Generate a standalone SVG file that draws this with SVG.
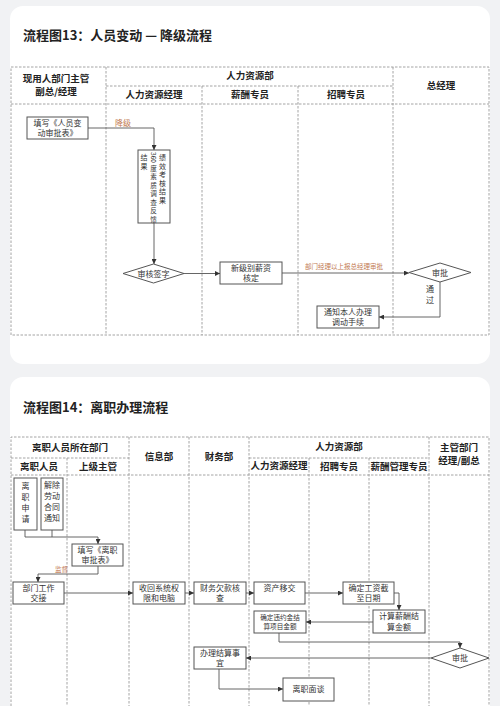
<svg xmlns="http://www.w3.org/2000/svg" width="500" height="706" viewBox="0 0 500 706">
<defs>
<marker id="arr" viewBox="0 0 6 6" refX="6" refY="3" markerWidth="5" markerHeight="5" orient="auto" markerUnits="userSpaceOnUse">
<path d="M0,0 L6,3 L0,6 z" fill="#333"/>
</marker>
</defs>
<style>
.card{fill:#ffffff}
.grid{stroke:#9a9a9a;stroke-width:0.9;stroke-dasharray:2.5,1.5;fill:none}
.title{font-family:"Noto Sans CJK SC","Noto Sans",sans-serif;font-size:13px;font-weight:bold;fill:#222}
.hd{font-family:"Noto Sans CJK SC","Noto Sans",sans-serif;font-size:9.5px;font-weight:bold;fill:#222;text-anchor:middle}
.box{fill:#fff;stroke:#555;stroke-width:1}
.t{font-family:"Noto Sans CJK SC","Noto Sans",sans-serif;font-size:8px;fill:#333;text-anchor:middle}
.ts{font-family:"Noto Sans CJK SC","Noto Sans",sans-serif;font-size:6.6px;fill:#333;text-anchor:middle}
.v{font-family:"Noto Sans CJK SC","Noto Sans",sans-serif;font-size:7px;fill:#333;text-anchor:middle;dominant-baseline:central}
.vm{font-family:"Noto Sans CJK SC","Noto Sans",sans-serif;font-size:6.6px;fill:#333;text-anchor:middle;dominant-baseline:central}
.lbl{font-family:"Noto Sans CJK SC","Noto Sans",sans-serif;font-size:8px;fill:#c27a52}
.lbls{font-family:"Noto Sans CJK SC","Noto Sans",sans-serif;font-size:6.5px;fill:#c27a52}
.c{fill:none;stroke:#555;stroke-width:0.9}
</style>
<rect x="0" y="0" width="500" height="706" fill="#f1f2f4"/>
<rect class="card" x="10" y="6" width="480" height="358" rx="13"/>
<rect class="card" x="10" y="377" width="480" height="340" rx="13"/>

<!-- Chart 13 -->
<text class="title" x="23" y="40">流程图13：人员变动 — 降级流程</text>
<g id="grid13">
<rect class="grid" x="11" y="67" width="478" height="268"/>
<line class="grid" x1="11" y1="104" x2="489" y2="104"/>
<line class="grid" x1="106" y1="86" x2="393" y2="86"/>
<line class="grid" x1="106" y1="67" x2="106" y2="335"/>
<line class="grid" x1="202" y1="86" x2="202" y2="335"/>
<line class="grid" x1="298" y1="86" x2="298" y2="335"/>
<line class="grid" x1="393" y1="67" x2="393" y2="335"/>
<text class="hd" x="56" y="82">现用人部门主管</text>
<text class="hd" x="56" y="95">副总/经理</text>
<text class="hd" x="250" y="79">人力资源部</text>
<text class="hd" x="154" y="98">人力资源经理</text>
<text class="hd" x="250" y="98">薪酬专员</text>
<text class="hd" x="346" y="98">招聘专员</text>
<text class="hd" x="441" y="89">总经理</text>
</g>
<g id="n13-1"><rect class="box" x="27" y="117" width="61" height="22"/><text class="t" x="57.5" y="125.5">填写《人员变</text><text class="t" x="57.5" y="135.5">动审批表》</text></g>
<g id="n13-2"><rect class="box" x="138" y="150" width="32" height="73"/>
<text class="v"><tspan x="162.5" y="157">绩</tspan><tspan x="162.5" y="165.5">效</tspan><tspan x="162.5" y="174">考</tspan><tspan x="162.5" y="182.5">核</tspan><tspan x="162.5" y="191">结</tspan><tspan x="162.5" y="199.5">果</tspan></text>
<text class="vm" transform="translate(153.5,157.5) rotate(90)" x="0" y="0">360</text>
<text class="vm"><tspan x="153.5" y="167.5">度</tspan><tspan x="153.5" y="176">素</tspan><tspan x="153.5" y="184.5">质</tspan><tspan x="153.5" y="193">调</tspan><tspan x="153.5" y="201.5">查</tspan><tspan x="153.5" y="210">反</tspan><tspan x="153.5" y="218.5">馈</tspan></text>
<text class="v"><tspan x="144" y="157">结</tspan><tspan x="144" y="165.5">果</tspan></text></g>
<g id="n13-3"><polygon class="box" points="123,273.5 153.5,264 184,273.5 153.5,283"/><text class="t" x="153.5" y="276.5">审核签字</text></g>
<g id="n13-4"><rect class="box" x="220" y="262" width="62" height="22"/><text class="t" x="251" y="270.5">新级别薪资</text><text class="t" x="251" y="280.5">核定</text></g>
<g id="n13-5"><polygon class="box" points="409,272.5 440,263 471,272.5 440,282"/><text class="t" x="440" y="275.5">审批</text></g>
<g id="n13-6"><rect class="box" x="317" y="306" width="62" height="22"/><text class="t" x="348" y="314.5">通知本人办理</text><text class="t" x="348" y="324.5">调动手续</text></g>
<g id="conn13">
<path class="c" d="M88,128 H154 V150" marker-end="url(#arr)"/>
<text class="lbl" x="115" y="126">降级</text>
<path class="c" d="M154,223 V264" marker-end="url(#arr)"/>
<path class="c" d="M184,273.5 H220" marker-end="url(#arr)"/>
<path class="c" d="M282,273 H409" marker-end="url(#arr)"/>
<text class="lbls" x="305" y="269">部门经理以上报总经理审批</text>
<path class="c" d="M440,282 V317 H379" marker-end="url(#arr)"/>
<text class="t" x="430" y="292">通</text>
<text class="t" x="430" y="303">过</text>
</g>

<!-- Chart 14 -->
<text class="title" x="23" y="412">流程图14：离职办理流程</text>
<g id="grid14">
<path class="grid" d="M11,706 V437 H489 V706"/>
<line class="grid" x1="11" y1="475" x2="489" y2="475"/>
<line class="grid" x1="11" y1="458" x2="129" y2="458"/>
<line class="grid" x1="249" y1="458" x2="429" y2="458"/>
<line class="grid" x1="67" y1="458" x2="67" y2="706"/>
<line class="grid" x1="129" y1="437" x2="129" y2="706"/>
<line class="grid" x1="189" y1="437" x2="189" y2="706"/>
<line class="grid" x1="249" y1="437" x2="249" y2="706"/>
<line class="grid" x1="309" y1="458" x2="309" y2="706"/>
<line class="grid" x1="369" y1="458" x2="369" y2="706"/>
<line class="grid" x1="429" y1="437" x2="429" y2="706"/>
<text class="hd" x="70" y="451">离职人员所在部门</text>
<text class="hd" x="39" y="470">离职人员</text>
<text class="hd" x="98" y="470">上级主管</text>
<text class="hd" x="159" y="460">信息部</text>
<text class="hd" x="219" y="460">财务部</text>
<text class="hd" x="339" y="450">人力资源部</text>
<text class="hd" x="279" y="469">人力资源经理</text>
<text class="hd" x="339" y="470">招聘专员</text>
<text class="hd" x="399" y="470">薪酬管理专员</text>
<text class="hd" x="459" y="451">主管部门</text>
<text class="hd" x="459" y="464">经理/副总</text>
</g>
<g id="n14-1"><rect class="box" x="14" y="478" width="23" height="52"/>
<text class="t" x="25.5" y="489">离</text><text class="t" x="25.5" y="500">职</text><text class="t" x="25.5" y="511">申</text><text class="t" x="25.5" y="522">请</text></g>
<g id="n14-2"><rect class="box" x="41" y="478" width="22" height="52"/>
<text class="t" x="52" y="488">解除</text><text class="t" x="52" y="499">劳动</text><text class="t" x="52" y="510">合同</text><text class="t" x="52" y="521">通知</text></g>
<g id="n14-3"><rect class="box" x="72" y="544" width="51" height="22"/><text class="t" x="97.5" y="552.5">填写《离职</text><text class="t" x="97.5" y="562.5">审批表》</text></g>
<g id="n14-4"><rect class="box" x="13" y="582" width="51" height="22"/><text class="t" x="38.5" y="590.5">部门工作</text><text class="t" x="38.5" y="600.5">交接</text></g>
<g id="n14-5"><rect class="box" x="133" y="582" width="52" height="22"/><text class="t" x="159" y="590.5">收回系统权</text><text class="t" x="159" y="600.5">限和电脑</text></g>
<g id="n14-6"><rect class="box" x="194" y="582" width="52" height="22"/><text class="t" x="220" y="590.5">财务欠款核</text><text class="t" x="220" y="600.5">查</text></g>
<g id="n14-7"><rect class="box" x="254" y="582" width="51" height="22"/><text class="t" x="279.5" y="590.5">资产移交</text></g>
<g id="n14-8"><rect class="box" x="343" y="582" width="51" height="22"/><text class="t" x="368.5" y="590.5">确定工资截</text><text class="t" x="368.5" y="600.5">至日期</text></g>
<g id="n14-9"><rect class="box" x="373" y="610" width="52" height="23"/><text class="t" x="399" y="619">计算薪酬结</text><text class="t" x="399" y="629.5">算金额</text></g>
<g id="n14-10"><rect class="box" x="254" y="611" width="52" height="22"/><text class="ts" x="280" y="619.5">确定违约金结</text><text class="ts" x="280" y="629">算项目金额</text></g>
<g id="n14-11"><polygon class="box" points="431,658 460,648 489,658 460,668"/><text class="t" x="460" y="661">审批</text></g>
<g id="n14-12"><rect class="box" x="194" y="647" width="52" height="22"/><text class="t" x="220" y="655.5">办理结算事</text><text class="t" x="220" y="665.5">宜</text></g>
<g id="n14-13"><rect class="box" x="283" y="678" width="51" height="23"/><text class="t" x="308.5" y="692">离职面谈</text></g>
<g id="conn14">
<path class="c" d="M25,530 V537 H98 V544" marker-end="url(#arr)"/>
<path class="c" d="M52,530 V537"/>
<path class="c" d="M98,566 V574 H38 V582" marker-end="url(#arr)"/>
<text class="lbls" x="55" y="572">监督</text>
<path class="c" d="M64,593 H133" marker-end="url(#arr)"/>
<path class="c" d="M185,593 H194" marker-end="url(#arr)"/>
<path class="c" d="M246,593 H254" marker-end="url(#arr)"/>
<path class="c" d="M305,593 H343" marker-end="url(#arr)"/>
<path class="c" d="M394,593 H399 V610" marker-end="url(#arr)"/>
<path class="c" d="M373,622 H306" marker-end="url(#arr)"/>
<path class="c" d="M279,633 V642 H460 V648" marker-end="url(#arr)"/>
<path class="c" d="M431,658 H246" marker-end="url(#arr)"/>
<path class="c" d="M219,669 V689 H283" marker-end="url(#arr)"/>
</g>
</svg>
